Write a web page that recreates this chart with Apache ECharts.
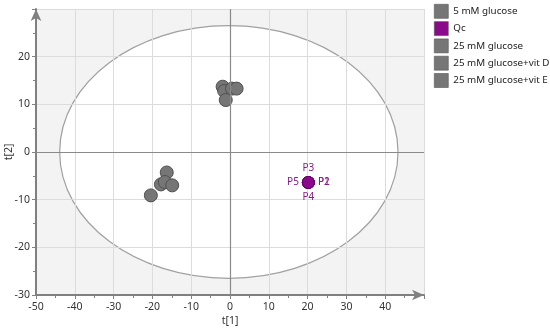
<!DOCTYPE html>
<html><head><meta charset="utf-8">
<script src="https://cdn.jsdelivr.net/npm/echarts@6/dist/echarts.min.js"></script>
<style>html,body{margin:0;padding:0;background:#fff}#c{width:550px;height:332px}</style>
</head><body><div id="c"></div>
<script>
var seriesNames = ['5 mM glucose', 'Qc', '25 mM glucose', '25 mM glucose+vit D', '25 mM glucose+vit E'];
var seriesColors = ['#767676', '#8b0a8b', '#767676', '#767676', '#767676'];
var glucose5 = [[-1.9, 13.7], [-1.5, 12.8], [0.5, 13.3], [1.7, 13.3], [-1.1, 10.9]];
var qc = [[20.2, -6.4, 'P1'], [20.2, -6.4, 'P2'], [20.2, -6.4, 'P3'], [20.2, -6.4, 'P4'], [20.2, -6.4, 'P5']];
var qcLabelPos = ['right', 'right', 'top', 'bottom', 'left'];
var glucose25 = [[-16.3, -4.3], [-17.8, -6.8], [-16.8, -6.3], [-14.9, -7.0], [-20.4, -9.1]];
var glucose25D = [];
var glucose25E = [];
var ellipse = [[-0.3, 0, 43.6, 26.5]]; // center x, center y, radius x, radius y
var xTicks = { min: -50, max: 50, interval: 10 };
var yTicks = { min: -30, max: 30, interval: 10 };

var font = 'Noto Sans';
var chart = echarts.init(document.getElementById('c'));
function scatter(i, data) {
  return {
    name: seriesNames[i], type: 'scatter', data: data, symbolSize: 13, z: 3,
    itemStyle: { color: seriesColors[i], borderColor: '#505050', borderWidth: 1, opacity: 1 }
  };
}
var qcSeries = scatter(1, qc.map(function (d, i) {
  return { value: d, label: { position: qcLabelPos[i] } };
}));
qcSeries.symbolSize = 12;
qcSeries.itemStyle.borderColor = '#6a006a';
qcSeries.label = { show: true, formatter: function (p) { return p.value[2]; }, color: '#8b1a8b', fontSize: 10, fontFamily: font, distance: 3 };

chart.setOption({
  animation: false,
  textStyle: { fontFamily: font },
  grid: { left: 36, right: 126, top: 9, bottom: 37, show: true, backgroundColor: '#f3f3f3', borderWidth: 0, z: -2, containLabel: false, outerBoundsMode: 'none' },
  legend: {
    orient: 'vertical', left: 434, top: 4, padding: 0, itemWidth: 14, itemHeight: 14, itemGap: 2.7,
    icon: 'rect', textStyle: { fontSize: 9.8, color: '#222', fontFamily: font, width: 120, overflow: 'none' },
    data: seriesNames, itemStyle: { borderColor: '#555', borderWidth: 0.6 }
  },
  xAxis: {
    type: 'value', min: xTicks.min, max: xTicks.max, interval: xTicks.interval,
    name: 't[1]', nameLocation: 'middle', nameGap: 21, nameMoveOverlap: false, nameTextStyle: { fontSize: 10.5, color: '#333' },
    axisLine: { lineStyle: { color: '#808080', width: 2 }, symbol: ['none', 'arrow'], symbolSize: [8, 12], onZero: false },
    axisTick: { show: true, length: 4, lineStyle: { color: '#808080' } },
    minorTick: { show: true, splitNumber: 2, length: 3, lineStyle: { color: '#808080' } },
    axisLabel: { fontSize: 10.5, color: '#333', margin: 7, showMaxLabel: false },
    splitLine: { show: true, lineStyle: { color: '#dcdcdc', width: 1 } }
  },
  yAxis: {
    type: 'value', min: yTicks.min, max: yTicks.max, interval: yTicks.interval,
    name: 't[2]', nameLocation: 'middle', nameGap: 21, nameMoveOverlap: false, nameTextStyle: { fontSize: 10.5, color: '#333' },
    axisLine: { lineStyle: { color: '#808080', width: 2 }, symbol: ['none', 'arrow'], symbolSize: [8, 12], onZero: false },
    axisTick: { show: true, length: 4, lineStyle: { color: '#808080' } },
    minorTick: { show: true, splitNumber: 2, length: 3, lineStyle: { color: '#808080' } },
    axisLabel: { fontSize: 10.5, color: '#333', margin: 6, showMaxLabel: false },
    splitLine: { show: true, lineStyle: { color: '#dcdcdc', width: 1 } }
  },
  series: [
    {
      type: 'custom', z: -1, silent: true, data: ellipse,
      renderItem: function (params, api) {
        var c = api.coord([api.value(0), api.value(1)]);
        var s = api.size([api.value(2), api.value(3)]);
        return { type: 'ellipse', shape: { cx: c[0], cy: c[1], rx: s[0], ry: s[1] },
          style: { fill: '#ffffff', stroke: '#a0a0a0', lineWidth: 1.2 } };
      }
    },
    {
      type: 'line', data: [], silent: true,
      markLine: { silent: true, symbol: 'none', label: { show: false }, lineStyle: { color: '#8a8a8a', type: 'solid', width: 1.2 },
        data: [{ xAxis: 0 }, { yAxis: 0 }] }
    },
    scatter(0, glucose5),
    qcSeries,
    scatter(2, glucose25),
    scatter(3, glucose25D),
    scatter(4, glucose25E)
  ]
});
</script></body></html>
